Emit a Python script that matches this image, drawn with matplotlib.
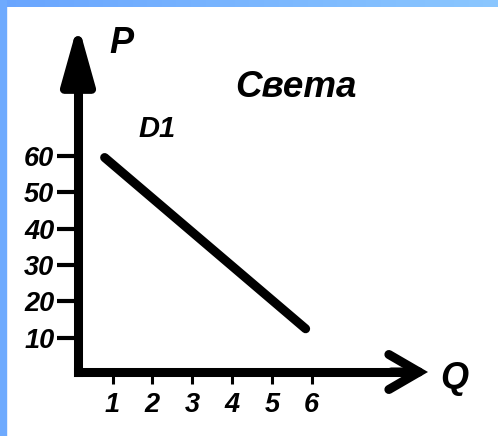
import numpy as np
import matplotlib
matplotlib.use("Agg")
import matplotlib.pyplot as plt
from matplotlib.patches import Rectangle

# demand curve D1 (quantity, price)
q_d1 = [0.8, 5.85]
p_d1 = [59.5, 12.5]

q_ticks = [1, 2, 3, 4, 5, 6]
p_ticks = [10, 20, 30, 40, 50, 60]

W, H, DPI = 498, 436, 100
FONT = "Liberation Sans"

fig = plt.figure(figsize=(W / DPI, H / DPI), dpi=DPI, facecolor="white")

# blue slide frame: gradient strip on top, plain strip on the left
top = fig.add_axes([0, 1 - 7 / H, 1, 7 / H])
grad = np.linspace(0, 1, 256)[None, :]
top.imshow(grad, aspect="auto", extent=[0, 1, 0, 1],
           cmap=matplotlib.colors.LinearSegmentedColormap.from_list("frame", ["#69a5fe", "#8bc7ff"]))
top.axis("off")
fig.patches.append(Rectangle((0, 0), 6 / W, 1, transform=fig.transFigure,
                             color="#6eaafe", zorder=0))

# axes fill the figure; scale 39.8 px per Q unit, 3.643 px per P unit
ax = fig.add_axes([0, 0, 1, 1 - 7 / H])
ax.set_facecolor("none")
x0_px, qs = 72.8, 39.8
y0_px, ps = 374.3, 3.643
ax.set_xlim(-x0_px / qs, (W - x0_px) / qs)
ax.set_ylim((y0_px - H) / ps, (y0_px - 7) / ps)

q_axis = (78 - x0_px) / qs
p_axis = (y0_px - 372) / ps

for side in ["top", "right"]:
    ax.spines[side].set_visible(False)
ax.spines["left"].set_position(("data", q_axis))
ax.spines["bottom"].set_position(("data", p_axis))
ax.spines["left"].set_linewidth(6.5)
ax.spines["bottom"].set_linewidth(6.5)
ax.spines["left"].set_bounds(p_axis, 86)
ax.spines["bottom"].set_bounds(q_axis, 8.3)
ax.spines["left"].set_capstyle("projecting")
ax.spines["bottom"].set_capstyle("projecting")

ax.set_xticks(q_ticks)
ax.set_yticks(p_ticks)
ax.set_xticklabels([str(v) for v in q_ticks])
ax.set_yticklabels([str(v) for v in p_ticks])
ax.tick_params(axis="y", length=15, width=3, pad=2, color="black")
ax.tick_params(axis="x", length=8.5, width=2.2, pad=6, color="black")
for lab in ax.get_xticklabels() + ax.get_yticklabels():
    lab.set_fontfamily(FONT)
    lab.set_fontstyle("italic")
    lab.set_fontweight("bold")
    lab.set_fontsize(19.5)

# arrow heads
ax.annotate("", xy=(q_axis, (y0_px - 24) / ps), xytext=(q_axis, 80),
            arrowprops=dict(arrowstyle="-|>,head_length=2.5,head_width=0.7",
                            mutation_scale=14, lw=6.5, color="black",
                            shrinkA=0, shrinkB=0))
ax.annotate("", xy=((428 - x0_px) / qs, p_axis), xytext=(8.0, p_axis),
            arrowprops=dict(arrowstyle="->,head_length=1.55,head_width=0.9",
                            mutation_scale=14, lw=6.5, color="black",
                            shrinkA=0, shrinkB=0, capstyle="round",
                            joinstyle="miter"))

ax.plot(q_d1, p_d1, color="black", lw=6.5, solid_capstyle="round")

txt = dict(family=FONT, style="italic", color="black")
ax.text(0.93, 88.2, "P", fontsize=26, weight="bold", ha="left", va="baseline", **txt)
ax.text(9.22, -3.7, "Q", fontsize=26, weight="bold", ha="left", va="baseline", **txt)
ax.text(4.07, 76.1, "Света", fontsize=26.5, weight="bold", ha="left", va="baseline", **txt)
ax.text(1.64, 65.1, "D1", fontsize=21, weight="bold", ha="left", va="baseline", **txt)

fig.savefig("out.png", dpi=DPI, facecolor="white")
